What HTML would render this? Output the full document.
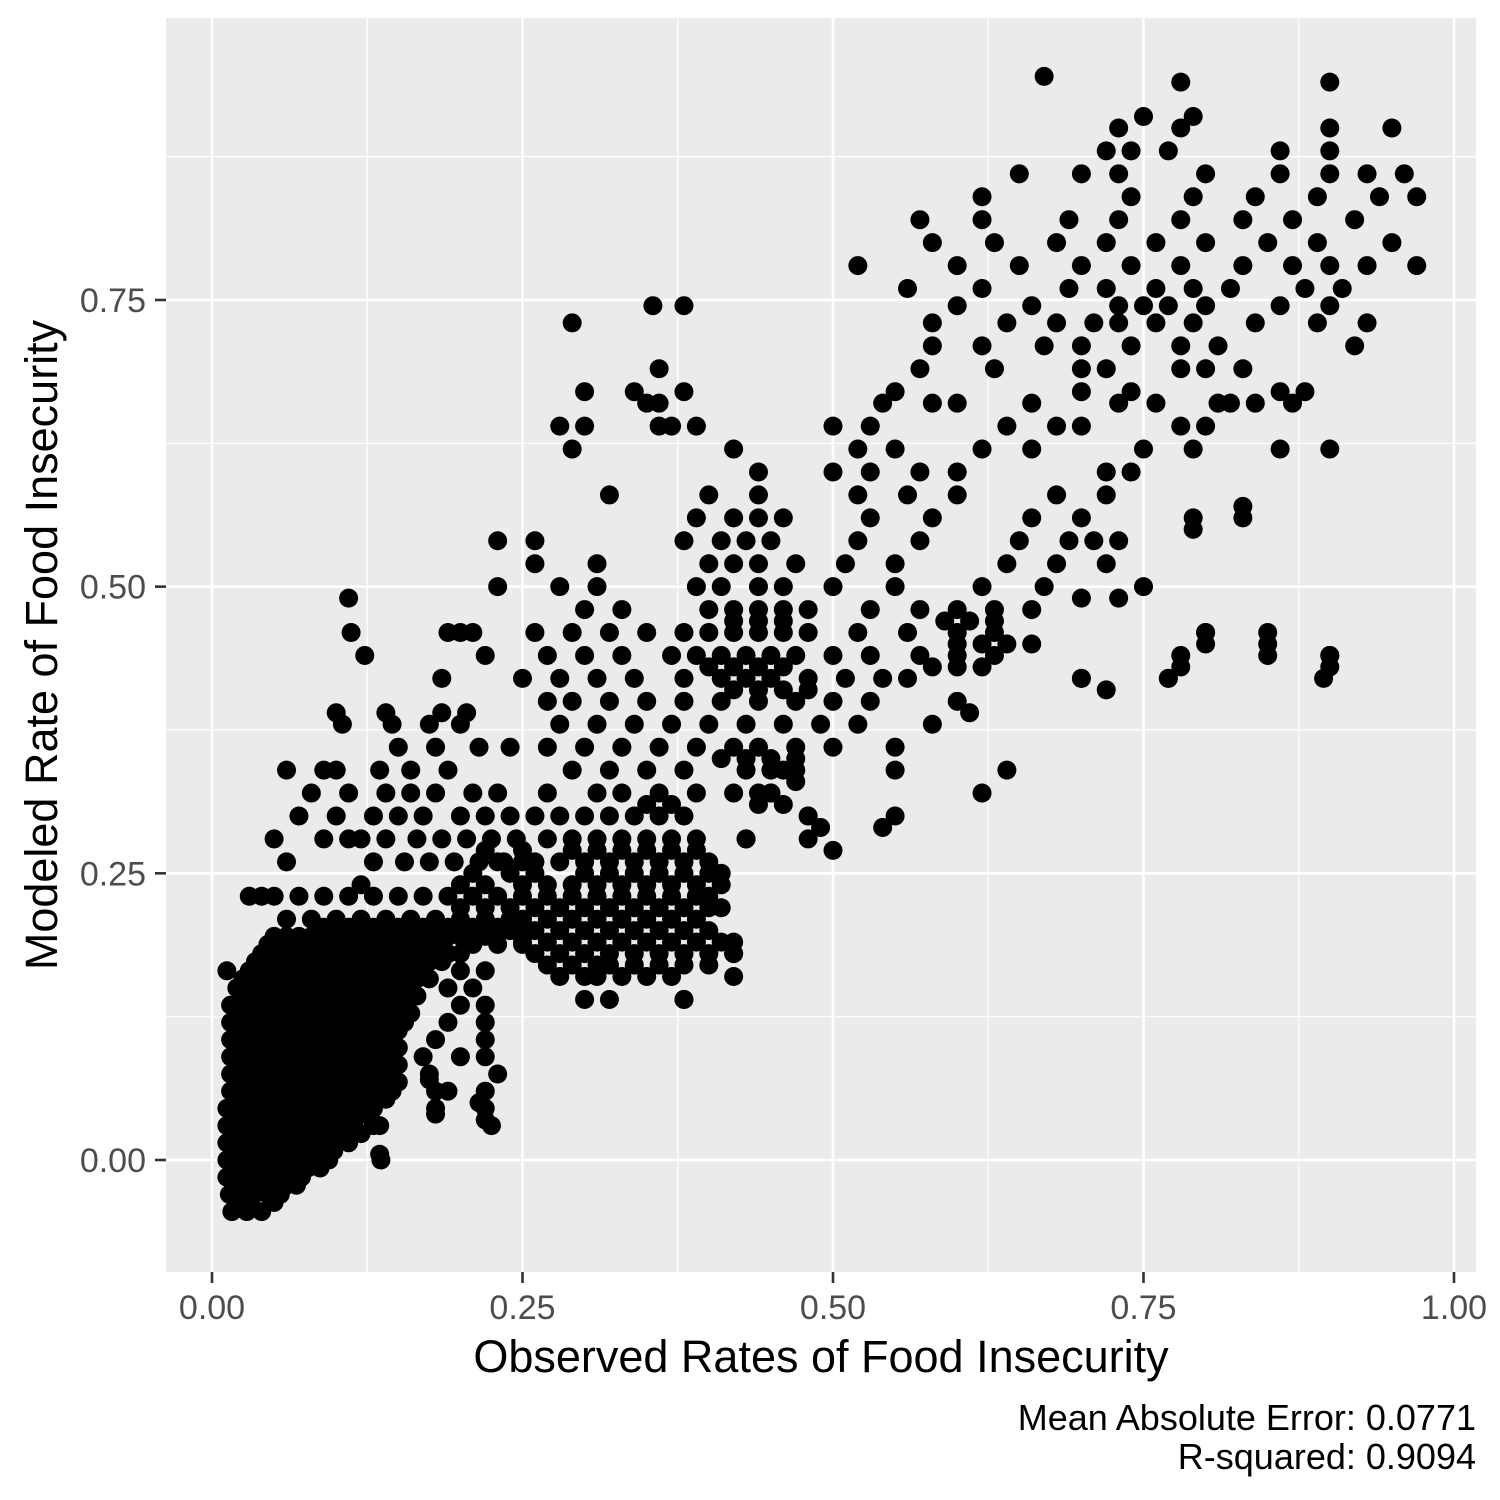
<!DOCTYPE html>
<html><head><meta charset="utf-8">
<style>
html,body{margin:0;padding:0;background:#fff;}
svg{display:block;font-family:"Liberation Sans",Arial,sans-serif;}
</style></head>
<body>
<svg id="chart" width="1500" height="1500" viewBox="0 0 1500 1500" xmlns="http://www.w3.org/2000/svg">
<rect x="0" y="0" width="1500" height="1500" fill="#fff"/>
<rect x="166" y="18" width="1310" height="1254" fill="#ebebeb"/>
<g id="grid"></g>
<g id="points"></g>
<g id="axes"></g>
<text x="821" y="1372" font-size="45" text-anchor="middle" fill="#000">Observed Rates of Food Insecurity</text>
<text transform="translate(57,645) rotate(-90)" font-size="45" text-anchor="middle" fill="#000">Modeled Rate of Food Insecurity</text>
<text x="1476" y="1430" font-size="36" text-anchor="end" fill="#000">Mean Absolute Error: 0.0771</text>
<text x="1476" y="1469" font-size="36" text-anchor="end" fill="#000">R-squared: 0.9094</text>
</svg>
<script>
// Axis ticks
const xTicks = [0, 0.25, 0.5, 0.75, 1.0];
const xTickLabels = ["0.00", "0.25", "0.50", "0.75", "1.00"];
const yTicks = [0, 0.25, 0.5, 0.75];
const yTickLabels = ["0.00", "0.25", "0.50", "0.75"];
const xMinor = [0.125, 0.375, 0.625, 0.875];
const yMinor = [0.125, 0.375, 0.625, 0.875];

// Observations grouped as rows: [modeled value, observed values...]
const denseRows = [
[-0.045, 0.016,0.028,0.04],
[-0.03, 0.014,0.024,0.034,0.045,0.055],
[-0.015, 0.012,0.022,0.032,0.042,0.052,0.062,0.072],
[0.0, 0.012,0.022,0.032,0.042,0.052,0.062,0.072,0.082,0.094,0.136],
[0.015, 0.012,0.022,0.032,0.042,0.052,0.062,0.072,0.082,0.092,0.1,0.11],
[0.03, 0.012,0.022,0.032,0.042,0.052,0.062,0.072,0.082,0.092,0.102,0.112,0.13,0.135,0.225],
[0.045, 0.012,0.022,0.032,0.042,0.052,0.062,0.072,0.082,0.092,0.102,0.112,0.122,0.13,0.18,0.22],
[0.06, 0.015,0.025,0.035,0.045,0.055,0.065,0.075,0.085,0.095,0.105,0.115,0.125,0.135,0.145,0.18,0.22],
[0.075, 0.015,0.025,0.035,0.045,0.055,0.065,0.075,0.085,0.095,0.105,0.115,0.125,0.135,0.145,0.175,0.23],
[0.09, 0.015,0.025,0.035,0.045,0.055,0.065,0.075,0.085,0.095,0.105,0.115,0.125,0.135,0.145,0.17,0.2,0.22],
[0.105, 0.015,0.025,0.035,0.045,0.055,0.065,0.075,0.085,0.095,0.105,0.115,0.125,0.135,0.145,0.18,0.22],
[0.12, 0.015,0.025,0.035,0.045,0.055,0.065,0.075,0.085,0.095,0.105,0.115,0.125,0.135,0.145,0.155,0.19,0.22],
[0.135, 0.015,0.025,0.035,0.045,0.055,0.065,0.075,0.085,0.095,0.105,0.115,0.125,0.135,0.145,0.155,0.2,0.22],
[0.15, 0.02,0.03,0.04,0.05,0.06,0.07,0.08,0.09,0.1,0.11,0.12,0.13,0.14,0.15,0.16,0.19,0.21],
[0.165, 0.012,0.03,0.04,0.05,0.06,0.07,0.08,0.09,0.1,0.11,0.12,0.13,0.14,0.15,0.16,0.17,0.2,0.22],
[0.18, 0.04,0.05,0.06,0.07,0.08,0.09,0.1,0.11,0.12,0.13,0.14,0.15,0.16,0.17,0.18,0.19,0.2],
[0.195, 0.05,0.06,0.07,0.08,0.09,0.1,0.11,0.12,0.13,0.14,0.15,0.16,0.17,0.18,0.19,0.2,0.21,0.22],
[0.21, 0.06,0.08,0.1,0.12,0.14,0.16,0.18,0.2,0.22,0.24],
[0.23, 0.03,0.04,0.05,0.07,0.09,0.11,0.13,0.15,0.17,0.19,0.21,0.23]
];
const fillRows = [
[-0.037, 0.02,0.03,0.05],
[-0.022, 0.018,0.028,0.038,0.05,0.06,0.068],
[-0.007, 0.017,0.027,0.037,0.047,0.057,0.067,0.077,0.087],
[0.008, 0.017,0.027,0.037,0.047,0.057,0.067,0.077,0.087,0.098],
[0.023, 0.017,0.027,0.037,0.047,0.057,0.067,0.077,0.087,0.097,0.107,0.12],
[0.038, 0.017,0.027,0.037,0.047,0.057,0.067,0.077,0.087,0.097,0.107,0.117,0.127],
[0.053, 0.02,0.03,0.04,0.05,0.06,0.07,0.08,0.09,0.1,0.11,0.12,0.13,0.14],
[0.068, 0.02,0.03,0.04,0.05,0.06,0.07,0.08,0.09,0.1,0.11,0.12,0.13,0.14,0.15],
[0.083, 0.02,0.03,0.04,0.05,0.06,0.07,0.08,0.09,0.1,0.11,0.12,0.13,0.14,0.15],
[0.098, 0.02,0.03,0.04,0.05,0.06,0.07,0.08,0.09,0.1,0.11,0.12,0.13,0.14,0.15],
[0.113, 0.02,0.03,0.04,0.05,0.06,0.07,0.08,0.09,0.1,0.11,0.12,0.13,0.14,0.15],
[0.128, 0.02,0.03,0.04,0.05,0.06,0.07,0.08,0.09,0.1,0.11,0.12,0.13,0.14,0.15,0.16],
[0.143, 0.025,0.035,0.045,0.055,0.065,0.075,0.085,0.095,0.105,0.115,0.125,0.135,0.145,0.155,0.165],
[0.158, 0.025,0.035,0.045,0.055,0.065,0.075,0.085,0.095,0.105,0.115,0.125,0.135,0.145,0.155,0.165,0.175],
[0.173, 0.035,0.045,0.055,0.065,0.075,0.085,0.095,0.105,0.115,0.125,0.135,0.145,0.155,0.165,0.175,0.185],
[0.188, 0.045,0.055,0.065,0.075,0.085,0.095,0.105,0.115,0.125,0.135,0.145,0.155,0.165,0.175,0.185,0.21,0.23,0.25],
[0.203, 0.09,0.11,0.13,0.15,0.17,0.19,0.21,0.23,0.25],
[0.17, 0.27,0.29,0.31,0.32,0.34,0.36,0.38,0.4],
[0.19, 0.25,0.27,0.29,0.31,0.33,0.35,0.37,0.39,0.41],
[0.21, 0.25,0.27,0.29,0.31,0.33,0.35,0.37,0.39],
[0.23, 0.25,0.27,0.29,0.31,0.33,0.35,0.37,0.39,0.4],
[0.25, 0.21,0.24,0.26,0.3,0.32,0.34,0.36,0.38,0.4],
[0.27, 0.22,0.25,0.29,0.31,0.33,0.35,0.37,0.39],
[0.31, 0.35,0.37,0.44,0.46],
[0.35, 0.41,0.43,0.45,0.47],
[0.41, 0.42,0.44,0.46,0.48],
[0.43, 0.4,0.42,0.44,0.46,0.58,0.6,0.62],
[0.45, 0.6,0.62,0.64,0.66],
[0.47, 0.42,0.44,0.46,0.59,0.61,0.63]
];
const bandRows = [
[0.14, 0.3,0.32,0.38],
[0.16, 0.28,0.3,0.31,0.33,0.35,0.37,0.42],
[0.18, 0.26,0.28,0.3,0.32,0.34,0.36,0.38,0.4,0.42],
[0.20, 0.22,0.24,0.26,0.28,0.3,0.32,0.34,0.36,0.38,0.4],
[0.22, 0.2,0.22,0.24,0.26,0.28,0.3,0.32,0.34,0.36,0.38,0.4,0.41],
[0.24, 0.12,0.2,0.22,0.25,0.27,0.29,0.31,0.33,0.35,0.37,0.39,0.41],
[0.26, 0.06,0.13,0.155,0.175,0.195,0.215,0.235,0.25,0.23,0.26,0.28,0.3,0.32,0.34,0.36,0.38,0.4],
[0.28, 0.05,0.09,0.11,0.12,0.14,0.165,0.185,0.205,0.225,0.245,0.27,0.29,0.31,0.33,0.35,0.37,0.39,0.43],
[0.30, 0.07,0.1,0.13,0.15,0.17,0.2,0.22,0.24,0.26,0.28,0.3,0.32,0.34,0.36,0.38,0.48,0.55],
[0.32, 0.08,0.11,0.14,0.16,0.18,0.21,0.23,0.27,0.31,0.33,0.36,0.39,0.42,0.44,0.45,0.62],
[0.34, 0.06,0.09,0.1,0.135,0.16,0.19,0.29,0.32,0.35,0.38,0.43,0.45,0.46,0.47,0.55,0.64],
[0.36, 0.15,0.18,0.215,0.24,0.27,0.3,0.33,0.36,0.39,0.42,0.44,0.47,0.5,0.55],
[0.38, 0.105,0.145,0.175,0.2,0.28,0.31,0.34,0.37,0.4,0.43,0.46,0.49,0.52,0.58],
[0.39, 0.1,0.14,0.185,0.205,0.61],
[0.40, 0.27,0.29,0.32,0.35,0.38,0.41,0.44,0.47,0.5,0.53,0.6],
[0.42, 0.185,0.25,0.28,0.31,0.34,0.38,0.41,0.43,0.45,0.48,0.51,0.54,0.56,0.7,0.77],
[0.44, 0.123,0.22,0.27,0.3,0.33,0.37,0.39,0.41,0.43,0.45,0.47,0.5,0.53,0.57,0.6,0.63,0.78,0.9],
[0.46, 0.112,0.19,0.2,0.21,0.26,0.29,0.32,0.35,0.38,0.4,0.42,0.44,0.46,0.48,0.52,0.56,0.6,0.63,0.8,0.85],
[0.48, 0.3,0.33,0.4,0.42,0.44,0.46,0.48,0.53,0.57,0.6,0.63,0.66],
[0.49, 0.11,0.7,0.73],
[0.50, 0.23,0.28,0.31,0.39,0.41,0.44,0.46,0.5,0.55,0.62,0.67,0.75],
[0.52, 0.26,0.31,0.4,0.42,0.44,0.47,0.51,0.55,0.64,0.68,0.72],
[0.54, 0.23,0.26,0.38,0.41,0.43,0.45,0.52,0.57,0.65,0.69,0.71,0.73],
[0.56, 0.39,0.42,0.44,0.46,0.53,0.58,0.66,0.7,0.79,0.83],
[0.58, 0.32,0.4,0.44,0.52,0.56,0.6,0.68,0.72],
[0.60, 0.44,0.5,0.53,0.57,0.6,0.72,0.74],
[0.62, 0.29,0.42,0.52,0.55,0.62,0.66,0.75,0.79,0.86,0.9],
[0.64, 0.28,0.3,0.36,0.37,0.39,0.5,0.53,0.64,0.68,0.7,0.78,0.8],
[0.66, 0.35,0.36,0.54,0.58,0.6,0.66,0.73,0.76,0.81,0.82,0.84,0.87],
[0.67, 0.3,0.34,0.38,0.55,0.7,0.74,0.86,0.88],
[0.69, 0.36,0.57,0.63,0.7,0.72,0.78,0.8,0.83],
[0.71, 0.58,0.62,0.67,0.7,0.74,0.78,0.81,0.92],
[0.73, 0.29,0.58,0.64,0.68,0.71,0.73,0.76,0.79,0.84,0.89,0.93],
[0.745, 0.355,0.38,0.6,0.66,0.73,0.75,0.77,0.8,0.86,0.9],
[0.76, 0.56,0.62,0.69,0.72,0.76,0.79,0.82,0.88,0.91],
[0.78, 0.52,0.6,0.65,0.7,0.74,0.78,0.83,0.87,0.9,0.93,0.97],
[0.80, 0.58,0.63,0.68,0.72,0.76,0.8,0.85,0.89,0.95],
[0.82, 0.57,0.62,0.69,0.73,0.78,0.83,0.87,0.92],
[0.84, 0.62,0.74,0.79,0.84,0.89,0.94,0.97],
[0.86, 0.65,0.7,0.73,0.8,0.86,0.9,0.93,0.96],
[0.88, 0.72,0.74,0.77,0.86,0.9],
[0.90, 0.73,0.78,0.9,0.95],
[0.91, 0.75,0.79],
[0.94, 0.78,0.9],
[0.945, 0.67]
];
const scatteredObserved = [0.85,0.85,0.9,0.9,0.895,0.8,0.8,0.78,0.77,0.7,0.72,0.83,0.79,0.48,0.49,0.48,0.5,0.54,0.45,0.47,0.42,0.42,0.38,0.41,0.43,0.135,0.18,0.175,0.19,0.22,0.215];
const scatteredModeled = [0.45,0.44,0.43,0.44,0.42,0.46,0.45,0.43,0.42,0.42,0.41,0.57,0.55,0.30,0.29,0.28,0.27,0.29,0.32,0.33,0.19,0.18,0.14,0.25,0.28,0.005,0.04,0.07,0.06,0.035,0.05];

const NS = "http://www.w3.org/2000/svg";
const X0 = 212, XS = 1242, Y0 = 1160, YS = 1146.7;
function xScale(v){ return X0 + v * XS; }
function yScale(v){ return Y0 - v * YS; }

const grid = document.getElementById('grid');
const axes = document.getElementById('axes');
function line(parent, x1, y1, x2, y2, stroke, w){
  const l = document.createElementNS(NS, 'line');
  l.setAttribute('x1', x1); l.setAttribute('y1', y1);
  l.setAttribute('x2', x2); l.setAttribute('y2', y2);
  l.setAttribute('stroke', stroke); l.setAttribute('stroke-width', w);
  parent.appendChild(l);
  return l;
}
xMinor.forEach(v => {
  const l = line(grid, xScale(v), 18, xScale(v), 1272, '#fff', 1.2);
  
  
});
yMinor.forEach(v => {
  const l = line(grid, 166, yScale(v), 1476, yScale(v), '#fff', 1.2);
  
  
});
xTicks.forEach((v, i) => {
  const g = line(grid, xScale(v), 18, xScale(v), 1272, '#fff', 2.6);
  
  
  const t = line(axes, xScale(v), 1272, xScale(v), 1283, '#333', 2.6);
  
  
  const tx = document.createElementNS(NS, 'text');
  tx.setAttribute('x', xScale(v)); tx.setAttribute('y', 1319);
  tx.setAttribute('font-size', '34'); tx.setAttribute('fill', '#4d4d4d');
  tx.setAttribute('text-anchor', 'middle');
  tx.textContent = xTickLabels[i];
  
  
  axes.appendChild(tx);
});
yTicks.forEach((v, i) => {
  const g = line(grid, 166, yScale(v), 1476, yScale(v), '#fff', 2.6);
  
  
  const t = line(axes, 155, yScale(v), 166, yScale(v), '#333', 2.6);
  
  
  const tx = document.createElementNS(NS, 'text');
  tx.setAttribute('x', 146); tx.setAttribute('y', yScale(v) + 12);
  tx.setAttribute('font-size', '34'); tx.setAttribute('fill', '#4d4d4d');
  tx.setAttribute('text-anchor', 'end');
  tx.textContent = yTickLabels[i];
  
  
  axes.appendChild(tx);
});

const pts = document.getElementById('points');
function dot(xv, yv){
  const c = document.createElementNS(NS, 'circle');
  c.setAttribute('cx', xScale(xv));
  c.setAttribute('cy', yScale(yv));
  c.setAttribute('r', 9.5);
  c.setAttribute('fill', '#000');
  
  
  pts.appendChild(c);
}
[denseRows, fillRows, bandRows].forEach(rows => rows.forEach(row => {
  for (let i = 1; i < row.length; i++) dot(row[i], row[0]);
}));
scatteredObserved.forEach((xv, i) => dot(xv, scatteredModeled[i]));
</script>
</body></html>
